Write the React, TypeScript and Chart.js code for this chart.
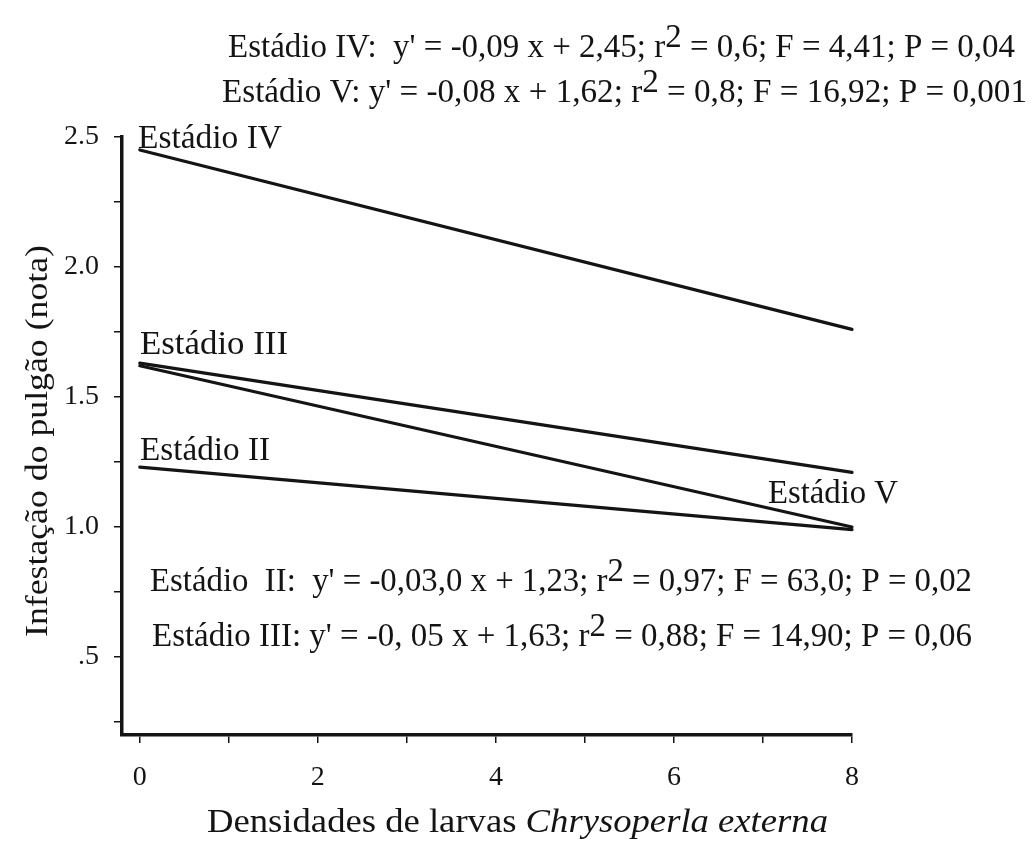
import React, { useEffect, useRef } from 'react';
import Chart from 'chart.js/auto';

// ---- data ----
const densities = [0, 8];
const stageII = [1.23, 0.99];
const stageIII = [1.63, 1.21];
const stageIV = [2.45, 1.76];
const stageV = [1.62, 1.0];
const yTickValues = [0.25, 0.5, 0.75, 1.0, 1.25, 1.5, 1.75, 2.0, 2.25, 2.5];
const xTickValues = [0, 1, 2, 3, 4, 5, 6, 7, 8];

const seriesLabels = ['Estádio II', 'Estádio III', 'Estádio IV', 'Estádio V'];
const eqIV = ["Estádio IV:  y' = -0,09 x + 2,45; r", '2', ' = 0,6; F = 4,41; P = 0,04'];
const eqV = ["Estádio V: y' = -0,08 x + 1,62; r", '2', ' = 0,8; F = 16,92; P = 0,001'];
const eqII = ["Estádio  II:  y' = -0,03,0 x + 1,23; r", '2', ' = 0,97; F = 63,0; P = 0,02'];
const eqIII = ["Estádio III: y' = -0, 05 x + 1,63; r", '2', ' = 0,88; F = 14,90; P = 0,06'];
const xTitle = ['Densidades de larvas ', 'Chrysoperla externa'];
const yTitle = 'Infestação do pulgão (nota)';

const FONT = "'Liberation Serif', 'Times New Roman', serif";
const INK = '#141414';

type Part = { t: string; italic?: boolean; sup?: boolean };

function drawRich(
  ctx: CanvasRenderingContext2D,
  parts: Part[],
  x: number,
  y: number,
  width: number,
  size: number,
  rotate = false
) {
  const fontOf = (p: Part) => `${p.italic ? 'italic ' : ''}${size}px ${FONT}`;
  let total = 0;
  for (const p of parts) {
    ctx.font = fontOf(p);
    total += ctx.measureText(p.t).width;
  }
  const sx = width / total;
  ctx.save();
  ctx.translate(x, y);
  if (rotate) ctx.rotate(-Math.PI / 2);
  ctx.scale(sx, 1);
  ctx.fillStyle = INK;
  ctx.textBaseline = 'alphabetic';
  ctx.textAlign = 'left';
  let cx = 0;
  for (const p of parts) {
    ctx.font = fontOf(p);
    ctx.fillText(p.t, cx, p.sup ? -size * 0.3 : 0);
    cx += ctx.measureText(p.t).width;
  }
  ctx.restore();
}

const eqParts = (e: string[]): Part[] => [{ t: e[0] }, { t: e[1], sup: true }, { t: e[2] }];

const textPlugin = {
  id: 'textPlugin',
  afterDraw(chart: any) {
    const ctx = chart.ctx as CanvasRenderingContext2D;
    const sz = 33;
    drawRich(ctx, eqParts(eqIV), 228, 57, 787, sz);
    drawRich(ctx, eqParts(eqV), 222, 102, 805, sz);
    drawRich(ctx, eqParts(eqII), 150, 591, 822, sz);
    drawRich(ctx, eqParts(eqIII), 152, 646, 820, sz);
    drawRich(ctx, [{ t: seriesLabels[2] }], 138, 148, 144, sz);
    drawRich(ctx, [{ t: seriesLabels[1] }], 140, 354, 148, sz);
    drawRich(ctx, [{ t: seriesLabels[0] }], 140, 460, 130, sz);
    drawRich(ctx, [{ t: seriesLabels[3] }], 768, 503, 130, sz);
    drawRich(ctx, [{ t: xTitle[0] }, { t: xTitle[1], italic: true }], 207, 832, 621, sz);
    drawRich(ctx, [{ t: yTitle }], 47, 637, 392, 31, true);
  },
};

const lineStyle = {
  borderColor: INK,
  borderWidth: 3.2,
  pointRadius: 0,
  showLine: true,
  fill: false,
  borderCapStyle: 'round' as const,
  clip: false as any,
};

export default function App() {
  const ref = useRef<HTMLCanvasElement | null>(null);

  useEffect(() => {
    document.body.style.margin = '0';
    const toPts = (ys: number[]) => densities.map((x, i) => ({ x, y: ys[i] }));
    const chart = new Chart(ref.current as HTMLCanvasElement, {
      type: 'scatter',
      data: {
        datasets: [
          { label: seriesLabels[0], data: toPts(stageII), ...lineStyle },
          { label: seriesLabels[1], data: toPts(stageIII), ...lineStyle },
          { label: seriesLabels[2], data: toPts(stageIV), ...lineStyle },
          { label: seriesLabels[3], data: toPts(stageV), ...lineStyle },
        ],
      },
      options: {
        animation: false,
        responsive: true,
        maintainAspectRatio: false,
        layout: { padding: { left: 0, right: 180, top: 137, bottom: 0 } },
        plugins: { legend: { display: false }, tooltip: { enabled: false }, title: { display: false } },
        scales: {
          x: {
            type: 'linear',
            min: -0.2,
            max: 8,
            afterBuildTicks: (axis: any) => {
              axis.ticks = xTickValues.map((v) => ({ value: v }));
            },
            afterFit: (scale: any) => {
              scale.height = 108;
            },
            ticks: {
              autoSkip: false,
              maxRotation: 0,
              color: INK,
              padding: 18,
              font: { family: FONT, size: 28 },
              callback: (v: any) => (Number(v) % 2 === 0 ? String(v) : ''),
            },
            grid: { drawOnChartArea: false, drawTicks: true, tickLength: 8, color: INK, lineWidth: 1.5 },
            border: { display: true, width: 3.5, color: INK },
          },
          y: {
            type: 'linear',
            min: 0.2,
            max: 2.5,
            afterBuildTicks: (axis: any) => {
              axis.ticks = yTickValues.map((v) => ({ value: v }));
            },
            afterFit: (scale: any) => {
              scale.width = 122;
            },
            ticks: {
              autoSkip: false,
              color: INK,
              padding: 15,
              font: { family: FONT, size: 28 },
              callback: (v: any) => {
                const n = Number(v);
                if (Math.abs(n * 2 - Math.round(n * 2)) > 1e-6) return '';
                if (Math.abs(n - 0.5) < 1e-6) return '.5';
                return n.toFixed(1);
              },
            },
            grid: { drawOnChartArea: false, drawTicks: true, tickLength: 8, color: INK, lineWidth: 1.5 },
            border: { display: true, width: 3.5, color: INK },
          },
        },
      },
      plugins: [textPlugin],
    } as any);
    return () => chart.destroy();
  }, []);

  return (
    <div style={{ position: 'absolute', left: 0, top: 0, width: 1032, height: 843, background: '#fff' }}>
      <canvas ref={ref} />
    </div>
  );
}
